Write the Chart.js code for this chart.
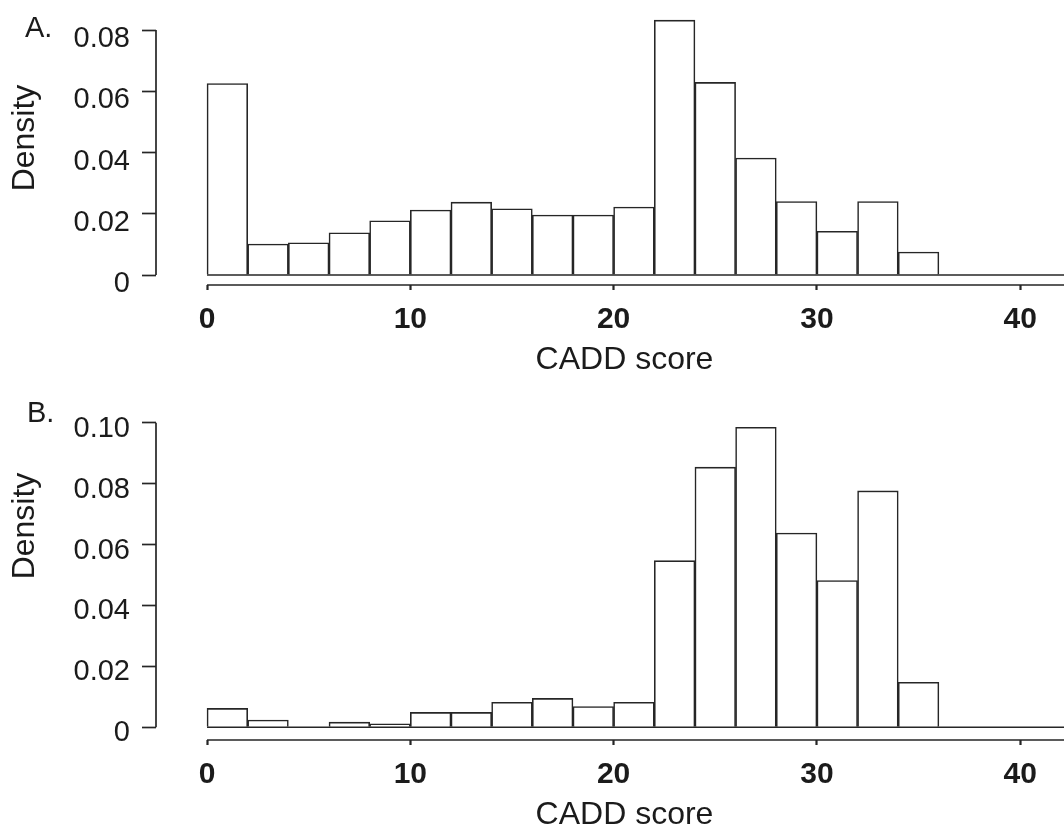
<!DOCTYPE html>
<html>
<head>
<meta charset="utf-8">
<title>CADD score density</title>
<script src="https://cdn.jsdelivr.net/npm/chart.js@4.4.1/dist/chart.umd.min.js"></script>
<style>
    html, body { margin: 0; padding: 0; background: #fff; overflow: hidden; }
    #wrap { position: relative; width: 1064px; height: 829px; overflow: hidden; }
    .panel { position: absolute; left: 0; }
    #panelA { top: 0; }
    #panelB { top: 380px; }
</style>
</head>
<body>
<div id="wrap">
    <div class="panel" id="panelA"><canvas id="chartA" width="1093" height="380"></canvas></div>
    <div class="panel" id="panelB"><canvas id="chartB" width="1093" height="455"></canvas></div>
</div>
<script>
// Histogram bins (CADD score, width 2)
const binStarts = [0, 2, 4, 6, 8, 10, 12, 14, 16, 18, 20, 22, 24, 26, 28, 30, 32, 34, 36, 38, 40, 42];
const binWidth = 2;

// Density per bin
const densityA = [0.0625, 0.0101, 0.0105, 0.0138, 0.0177, 0.0212, 0.0238, 0.0216, 0.0196, 0.0196, 0.0222,
                  0.0832, 0.0629, 0.0382, 0.0240, 0.0143, 0.0240, 0.0075, 0, 0, 0, 0];
const densityB = [0.0062, 0.0024, 0, 0.0017, 0.0011, 0.0049, 0.0049, 0.0082, 0.0095, 0.0068, 0.0082,
                  0.0547, 0.0854, 0.0985, 0.0638, 0.0482, 0.0776, 0.0148, 0, 0, 0, 0];

// Axis ticks
const xTicks = [0, 10, 20, 30, 40];
const yTicksA = [0, 0.02, 0.04, 0.06, 0.08];
const yLabelsA = ['0', '0.02', '0.04', '0.06', '0.08'];
const yTicksB = [0, 0.02, 0.04, 0.06, 0.08, 0.10];
const yLabelsB = ['0', '0.02', '0.04', '0.06', '0.08', '0.10'];

const FONT = "'Liberation Sans', Arial, sans-serif";
const INK = '#1b1b1b';
const LINE = '#262626';

// Baseline, detached R-style axis lines, panel letter and y title
const histDecor = {
    id: 'histDecor',
    afterDatasetsDraw(chart, args, opts) {
        const { ctx, chartArea } = chart;
        const x = chart.scales.x;
        const y = chart.scales.y;
        ctx.save();
        ctx.strokeStyle = LINE;

        // zero line under all bins (empty bins too)
        const y0 = y.getPixelForValue(0);
        ctx.lineWidth = 1.5;
        ctx.beginPath();
        ctx.moveTo(x.getPixelForValue(binStarts[0]), y0);
        ctx.lineTo(x.getPixelForValue(binStarts[binStarts.length - 1] + binWidth), y0);
        ctx.stroke();

        // axis lines from first to last tick
        const yt = opts.yTicks;
        ctx.lineWidth = 1.7;
        ctx.beginPath();
        ctx.moveTo(chartArea.left, y.getPixelForValue(yt[0]));
        ctx.lineTo(chartArea.left, y.getPixelForValue(yt[yt.length - 1]));
        ctx.moveTo(x.getPixelForValue(xTicks[0]), chartArea.bottom);
        ctx.lineTo(chartArea.right, chartArea.bottom);
        ctx.stroke();

        ctx.fillStyle = INK;
        // panel letter
        ctx.font = '29px ' + FONT;
        ctx.textAlign = 'left';
        ctx.textBaseline = 'alphabetic';
        ctx.fillText(opts.letter, opts.letterX, opts.letterY);

        // y axis title
        ctx.font = '32px ' + FONT;
        ctx.translate(25, opts.titleY);
        ctx.rotate(-Math.PI / 2);
        ctx.textAlign = 'center';
        ctx.textBaseline = 'middle';
        ctx.fillText('Density', 0, 0);
        ctx.restore();
    }
};

function noPadding(scale) {
    scale.paddingTop = 0;
    scale.paddingBottom = 0;
    scale.paddingLeft = 0;
    scale.paddingRight = 0;
}

function drawHistogram(canvasId, values, yTicks, yLabels, cfg) {
    return new Chart(document.getElementById(canvasId), {
        type: 'bar',
        data: {
            datasets: [{
                data: binStarts.map((s, i) => ({ x: s + binWidth / 2, y: values[i] })),
                backgroundColor: '#ffffff',
                borderColor: LINE,
                borderWidth: 1.6,
                borderSkipped: 'start',
                barPercentage: 1,
                categoryPercentage: 1
            }]
        },
        options: {
            responsive: false,
            animation: false,
            events: [],
            layout: { padding: 0 },
            plugins: {
                legend: { display: false },
                tooltip: { enabled: false },
                histDecor: {
                    yTicks: yTicks,
                    letter: cfg.letter,
                    letterX: cfg.letterX,
                    letterY: cfg.letterY,
                    titleY: cfg.titleY
                }
            },
            scales: {
                x: {
                    type: 'linear',
                    min: -2.51,
                    max: 43.58,
                    offset: false,
                    afterBuildTicks: (scale) => { scale.ticks = xTicks.map(v => ({ value: v })); },
                    afterFit: (scale) => { scale.height = cfg.xAxisHeight; noPadding(scale); },
                    border: { display: false },
                    grid: {
                        offset: false,
                        drawOnChartArea: false,
                        drawTicks: true,
                        tickLength: 5,
                        tickWidth: 2.2,
                        tickColor: LINE
                    },
                    ticks: {
                        autoSkip: false,
                        maxRotation: 0,
                        padding: 12,
                        color: INK,
                        font: { family: FONT, size: 30, weight: 'bold' },
                        callback: (v) => String(v)
                    },
                    title: {
                        display: true,
                        text: 'CADD score',
                        color: INK,
                        font: { family: FONT, size: 32 },
                        padding: { top: 0, bottom: 1 }
                    }
                },
                y: {
                    min: cfg.yMin,
                    max: cfg.yMax,
                    afterBuildTicks: (scale) => { scale.ticks = yTicks.map(v => ({ value: v })); },
                    afterFit: (scale) => { scale.width = 156; noPadding(scale); },
                    border: { display: false },
                    grid: {
                        drawOnChartArea: false,
                        drawTicks: true,
                        tickLength: 14,
                        tickWidth: 1.7,
                        tickColor: LINE
                    },
                    ticks: {
                        padding: 12,
                        labelOffset: cfg.labelOffset,
                        color: INK,
                        font: { family: FONT, size: 29 },
                        callback: (v, i) => yLabels[i]
                    }
                }
            }
        },
        plugins: [histDecor]
    });
}

drawHistogram('chartA', densityA, yTicksA, yLabelsA, {
    yMin: -0.003265, yMax: 0.089796, xAxisHeight: 95, labelOffset: 9,
    letter: 'A.', letterX: 25, letterY: 37, titleY: 138
});

drawHistogram('chartB', densityB, yTicksB, yLabelsB, {
    yMin: -0.00417, yMax: 0.11402, xAxisHeight: 95, labelOffset: 6,
    letter: 'B.', letterX: 27, letterY: 42, titleY: 146
});
</script>
</body>
</html>
